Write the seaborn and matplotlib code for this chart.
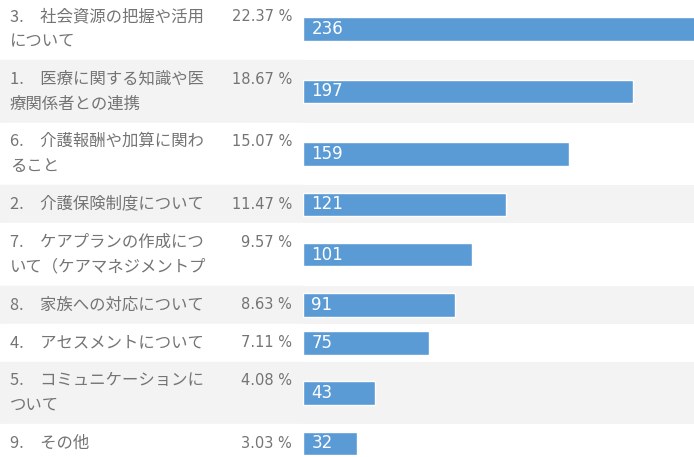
import matplotlib
matplotlib.use("Agg")
import matplotlib.pyplot as plt
from matplotlib.patches import Rectangle
import seaborn as sns
import pandas as pd

# ---- data ----
labels = [
    "3.\u3000社会資源の把握や活用\nについて",
    "1.\u3000医療に関する知識や医\n療関係者との連携",
    "6.\u3000介護報酬や加算に関わ\nること",
    "2.\u3000介護保険制度について",
    "7.\u3000ケアプランの作成につ\nいて（ケアマネジメントプ",
    "8.\u3000家族への対応について",
    "4.\u3000アセスメントについて",
    "5.\u3000コミュニケーションに\nついて",
    "9.\u3000その他",
]
percents = [22.37, 18.67, 15.07, 11.47, 9.57, 8.63, 7.11, 4.08, 3.03]
counts = [236, 197, 159, 121, 101, 91, 75, 43, 32]

df = pd.DataFrame({"label": labels, "pct": percents, "count": counts})

sns.set_theme(style="white")
plt.rcParams["font.family"] = ["Noto Sans CJK JP", "DejaVu Sans"]

W, H = 694, 457
fig = plt.figure(figsize=(W / 100, H / 100), dpi=100)

BAR_COLOR = "#5b9bd5"
GRAY_BG = "#f3f3f3"
TEXT_COLOR = "#747474"
FS_LABEL = 11.8
FS_PCT = 10.5
FS_COUNT = 12

ROW2 = 62.5   # px height of a two-line row
ROW1 = 38.0   # px height of a one-line row
BAR_PX = 23.5
TOP = -2.25   # px offset of first row top
LINE_GAP = 12.5  # px from row centre to each line of a two-line label

nlines = [lab.count("\n") + 1 for lab in df["label"]]
heights = [ROW2 if n == 2 else ROW1 for n in nlines]
total = sum(heights)

gs = fig.add_gridspec(
    len(df), 1, height_ratios=heights, hspace=0,
    left=303 / W, right=1.0,
    top=1 - TOP / H, bottom=1 - (TOP + total) / H,
)

xmax = (W - 303) / 1.675

for i, row in df.iterrows():
    ax = fig.add_subplot(gs[i, 0])
    bg = GRAY_BG if i % 2 == 1 else "white"
    ax.set_facecolor(bg)
    sub = df.iloc[[i]]
    sns.barplot(data=sub, x="count", y="label", orient="h", ax=ax,
                color=BAR_COLOR, saturation=1, width=BAR_PX / heights[i])
    ax.set_xlim(0, xmax)
    ax.set_ylim(0.5, -0.5)
    ax.set_xticks([])
    ax.set_yticks([])
    ax.set_xlabel("")
    ax.set_ylabel("")
    for s in ax.spines.values():
        s.set_visible(False)

    pos = ax.get_position()
    fig.patches.append(Rectangle((0, pos.y0), 1, pos.height,
                                 transform=fig.transFigure, color=bg,
                                 zorder=-10))
    yc = pos.y0 + pos.height / 2
    lines = row["label"].split("\n")
    if len(lines) == 1:
        ys = [yc]
    else:
        ys = [yc + LINE_GAP / H, yc - LINE_GAP / H]
    for line, y in zip(lines, ys):
        fig.text(10 / W, y, line, ha="left", va="center", fontsize=FS_LABEL,
                 color=TEXT_COLOR)
    fig.text(292 / W, ys[0], f"{row['pct']:.2f} %", ha="right", va="center",
             fontsize=FS_PCT, color=TEXT_COLOR, family=["DejaVu Sans"])
    ax.text(5, 0, f"{row['count']}", ha="left", va="center",
            fontsize=FS_COUNT, color="white", family=["DejaVu Sans"])

fig.savefig("out.png", dpi=100)
